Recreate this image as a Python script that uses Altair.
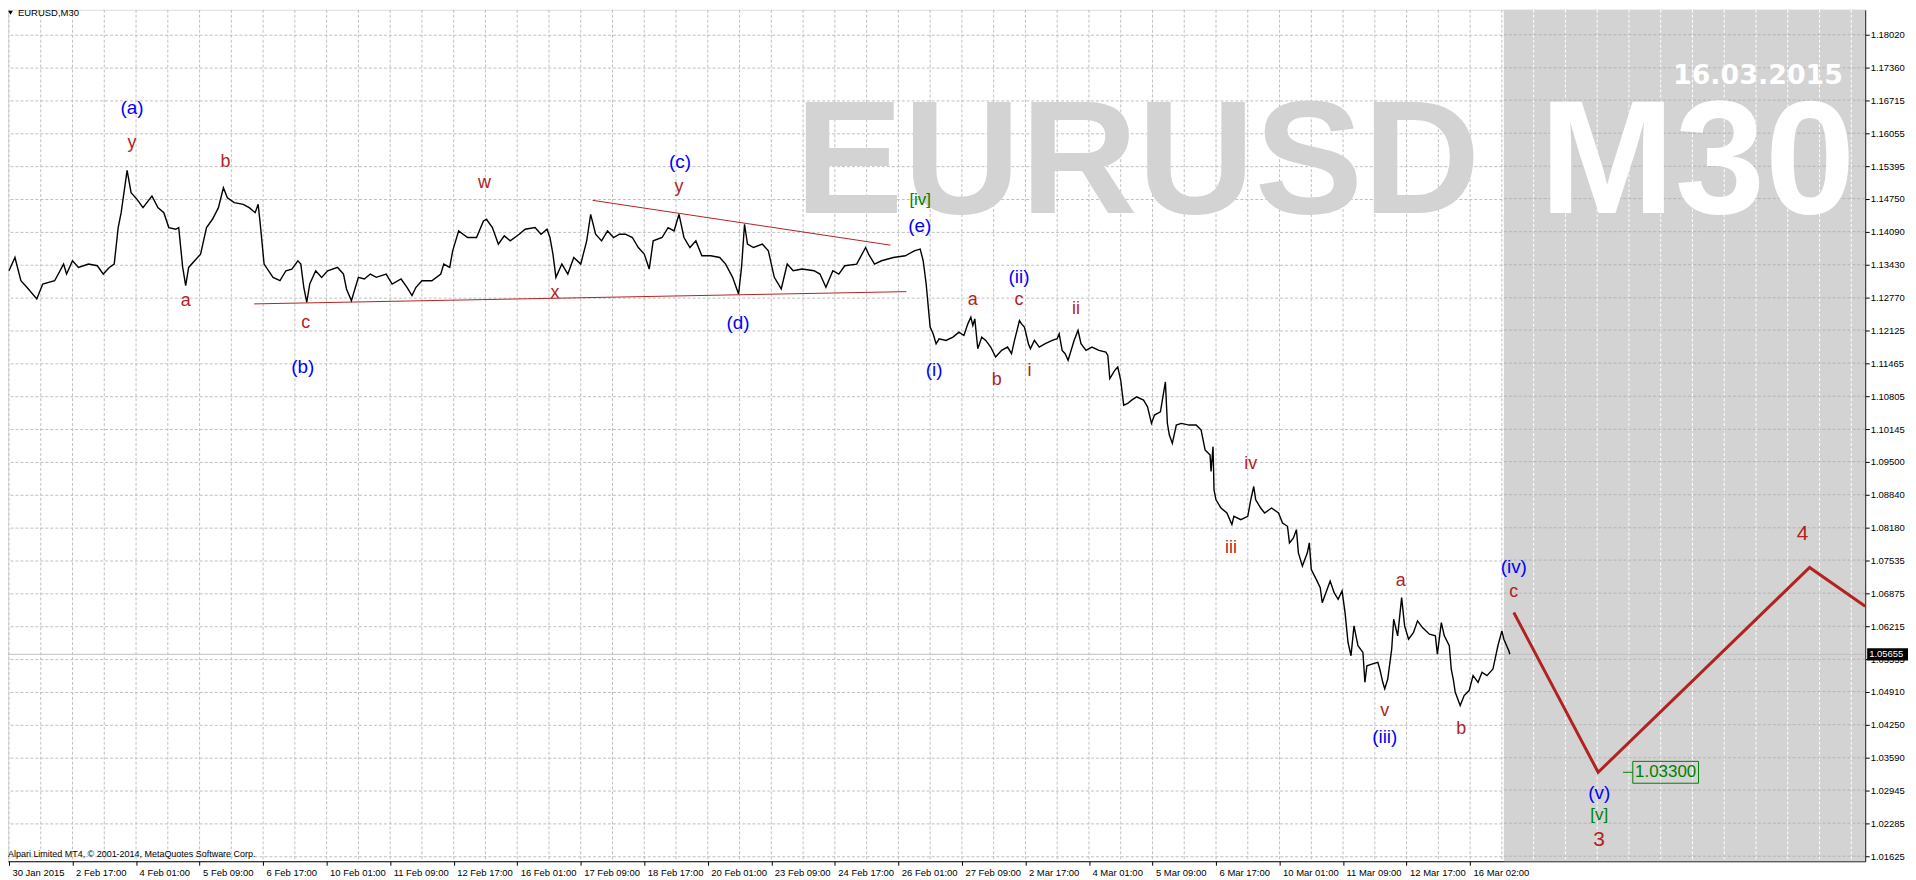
import json
import altair as alt
import pandas as pd

W, H = 1865, 855
X_DOMAIN = [-1, 1870]
Y_DOMAIN = [1.01525, 1.18517]

# ---- price path (M30 bar index, close) ----
price_bar = [0, 6, 12, 18, 28, 34, 46, 55, 58, 64, 70, 80, 89, 95, 101, 106, 110, 113, 119, 123,
             129, 135, 144, 150, 156, 161, 168, 171, 175, 178, 181, 187, 193, 196, 199, 205, 211, 216, 220, 227,
             236, 242, 248, 251, 253, 257, 266, 273, 279, 285, 291, 294, 297, 300, 303, 309, 315, 321, 331, 337,
             340, 345, 349, 352, 358, 364, 370, 380, 386, 395, 401, 406, 410, 416, 426, 435, 438, 444, 447, 453,
             462, 471, 478, 481, 487, 493, 499, 505, 514, 520, 530, 536, 542, 545, 548, 551, 557, 563, 569, 576,
             582, 586, 591, 597, 603, 609, 615, 621, 628, 634, 640, 645, 649, 658, 664, 670, 675, 680, 686, 692,
             698, 707, 716, 722, 729, 735, 738, 741, 744, 750, 759, 765, 771, 778, 784, 790, 799, 811, 817, 823,
             830, 836, 842, 854, 863, 866, 872, 879, 891, 903, 912, 918, 921, 924,
             928, 931, 934, 937, 944, 951, 957, 962, 966, 969, 971, 973, 976, 980, 984, 989, 994, 1000, 1006, 1010,
             1013, 1018, 1020, 1023, 1027, 1029, 1033, 1038, 1044, 1051, 1056, 1058, 1061, 1064, 1067, 1069, 1073, 1077, 1080, 1085,
             1091, 1098, 1105, 1107, 1109, 1114, 1117, 1120, 1123, 1127, 1131, 1136, 1143, 1147, 1151, 1154, 1160, 1165, 1167, 1169,
             1172, 1176, 1181, 1189, 1196, 1201, 1205, 1210, 1211, 1213, 1214, 1216, 1221, 1227, 1232, 1234, 1241, 1248, 1251, 1254,
             1256, 1261, 1265, 1272, 1279, 1283, 1288, 1290, 1294, 1297, 1299, 1303, 1308, 1310, 1312, 1317, 1321, 1323, 1328, 1331,
             1335, 1339, 1343, 1346, 1349, 1352, 1355, 1359, 1364, 1366, 1368, 1373, 1379, 1381, 1384, 1386, 1389, 1393, 1395, 1399,
             1403, 1406, 1410, 1415, 1419, 1424, 1431, 1437, 1439, 1443, 1446, 1451, 1453, 1455, 1457, 1462, 1466, 1471, 1475, 1480,
             1484, 1489, 1495, 1500, 1504, 1506, 1511, 1512]
price_val = [1.13310, 1.13575, 1.13111, 1.12979, 1.12747, 1.13045, 1.13111, 1.13443, 1.13244, 1.13509, 1.13376, 1.13443, 1.13410, 1.13244, 1.13376, 1.13443, 1.14171, 1.14469, 1.15311, 1.14867,
             1.14734, 1.14569, 1.14801, 1.14569, 1.14469, 1.14171, 1.14138, 1.14171, 1.13376, 1.13012, 1.13376, 1.13509, 1.13641, 1.13906, 1.14171, 1.14337, 1.14569, 1.14966, 1.14767, 1.14668,
             1.14635, 1.14569, 1.14469, 1.14635, 1.14271, 1.13443, 1.13178, 1.13111, 1.13310, 1.13343, 1.13509, 1.13443, 1.12979, 1.12681, 1.13045, 1.13310, 1.13178, 1.13310, 1.13376, 1.13244,
             1.12946, 1.12714, 1.12979, 1.13178, 1.13145, 1.13244, 1.13178, 1.13244, 1.13045, 1.13145, 1.12979, 1.12813, 1.12979, 1.13111, 1.13111, 1.13244, 1.13443, 1.13376, 1.13708, 1.14105,
             1.13973, 1.13973, 1.14304, 1.14337, 1.14171, 1.13840, 1.14006, 1.13906, 1.14039, 1.14138, 1.14171, 1.14039, 1.14138, 1.13973, 1.13641, 1.13178, 1.13443, 1.13244, 1.13575, 1.13443,
             1.13906, 1.14436, 1.14039, 1.13906, 1.14105, 1.13973, 1.14039, 1.14039, 1.13973, 1.13774, 1.13641, 1.13343, 1.13906, 1.13973, 1.14171, 1.14105, 1.14436, 1.13973, 1.13774, 1.13906,
             1.13608, 1.13608, 1.13575, 1.13443, 1.13178, 1.12846, 1.13376, 1.14238, 1.13840, 1.13774, 1.13840, 1.13708, 1.13178, 1.12946, 1.13443, 1.13310, 1.13343, 1.13310, 1.13244, 1.12979,
             1.13310, 1.13244, 1.13410, 1.13443, 1.13774, 1.13641, 1.13443, 1.13509, 1.13575, 1.13608, 1.13708, 1.13741, 1.13509, 1.13045,
             1.12184, 1.12052, 1.11853, 1.11952, 1.11919, 1.11985, 1.12085, 1.12018, 1.12250, 1.12383, 1.12217, 1.12350, 1.11754, 1.11985, 1.11919, 1.11787, 1.11588, 1.11720, 1.11787, 1.11654,
             1.11919, 1.12317, 1.12250, 1.12184, 1.11853, 1.11754, 1.11919, 1.11787, 1.11853, 1.11919, 1.11952, 1.12052, 1.11720, 1.11654, 1.11522, 1.11654, 1.11919, 1.12118, 1.11853, 1.11720,
             1.11787, 1.11720, 1.11687, 1.11621, 1.11157, 1.11323, 1.11389, 1.11124, 1.10627, 1.10661, 1.10727, 1.10793, 1.10727, 1.10594, 1.10263, 1.10429, 1.10495, 1.11091, 1.10263, 1.10031,
             1.09866, 1.10230, 1.10263, 1.10230, 1.10230, 1.10131, 1.09733, 1.09634, 1.09303, 1.09799, 1.08938, 1.08739, 1.08574, 1.08474, 1.08243, 1.08408, 1.08342, 1.08408, 1.08739, 1.09004,
             1.08739, 1.08574, 1.08474, 1.08574, 1.08474, 1.08276, 1.08210, 1.07878, 1.07978, 1.08143, 1.07680, 1.07415, 1.07680, 1.07878, 1.07348, 1.07150, 1.06984, 1.06686, 1.06951, 1.07117,
             1.06885, 1.06752, 1.06918, 1.06487, 1.05891, 1.05626, 1.06222, 1.05825, 1.05692, 1.05096, 1.05427, 1.05460, 1.05494, 1.05361, 1.05096, 1.04964, 1.05162, 1.05759, 1.06355, 1.06024,
             1.06785, 1.06222, 1.05957, 1.06090, 1.06322, 1.06189, 1.06057, 1.06024, 1.05659, 1.06288, 1.06024, 1.05825, 1.05361, 1.05162, 1.04897, 1.04632, 1.04831, 1.04931, 1.05229, 1.05096,
             1.05295, 1.05229, 1.05361, 1.05825, 1.06123, 1.05957, 1.05725, 1.05655]

current_price = 1.05655

# ---- axes ----
x_tick_bars = list(range(0, 1473, 64))
x_tick_labels = ["30 Jan 2015", "2 Feb 17:00", "4 Feb 01:00", "5 Feb 09:00", "6 Feb 17:00",
                 "10 Feb 01:00", "11 Feb 09:00", "12 Feb 17:00", "16 Feb 01:00", "17 Feb 09:00",
                 "18 Feb 17:00", "20 Feb 01:00", "23 Feb 09:00", "24 Feb 17:00", "26 Feb 01:00",
                 "27 Feb 09:00", "2 Mar 17:00", "4 Mar 01:00", "5 Mar 09:00", "6 Mar 17:00",
                 "10 Mar 01:00", "11 Mar 09:00", "12 Mar 17:00", "16 Mar 02:00"]
y_tick_values = [1.18020, 1.17360, 1.16715, 1.16055, 1.15395, 1.14750, 1.14090, 1.13430, 1.12770,
                 1.12125, 1.11465, 1.10805, 1.10145, 1.09500, 1.08840, 1.08180, 1.07535, 1.06875,
                 1.06215, 1.05555, 1.04910, 1.04250, 1.03590, 1.02945, 1.02285, 1.01625]
grid_bars = list(range(0, 1857, 32))
future_start, future_end = 1506, 1870

# ---- drawn objects ----
upper_bar = [588, 888]
upper_val = [1.14715, 1.13821]
lower_bar = [247, 904]
lower_val = [1.12648, 1.12893]
forecast_bar = [1516, 1601, 1814, 1870]
forecast_val = [1.06488, 1.03300, 1.07388, 1.06613]
target_bar, target_val, target_text = 1669, 1.03300, "1.03300"

blue_text = ["(a)", "(b)", "(c)", "(d)", "(e)", "(i)", "(ii)", "(iii)", "(iv)", "(v)"]
blue_bar = [124, 296, 676, 734.5, 917.5, 932, 1017.5, 1386, 1516, 1602]
blue_val = [1.16549, 1.11392, 1.15476, 1.12265, 1.14204, 1.11333, 1.13181, 1.04010, 1.07398, 1.02877]

red_text = ["y", "b", "a", "c", "w", "x", "y", "a", "c", "b", "i", "ii", "iv", "iii", "a", "v", "b", "c"]
red_bar = [124, 218, 178, 299, 479, 550, 675, 971, 1017.5, 995, 1028, 1075, 1251, 1231, 1402, 1386, 1463, 1516]
red_val = [1.15854, 1.15476, 1.12704, 1.12265, 1.15059, 1.12863, 1.14979, 1.12724, 1.12734, 1.11124,
           1.11303, 1.12555, 1.09455, 1.07776, 1.07118, 1.04516, 1.04159, 1.06891]

green_text = ["[iv]", "[v]"]
green_bar = [918, 1602]
green_val = [1.14721, 1.02446]

big_text = ["3", "4"]
big_bar = [1602, 1807]
big_val = [1.01949, 1.08054]

wm_bar, wm_val = [1137, 1701], [1.14463, 1.14463]
date_bar, date_val = 1762, 1.17046

FONT = "Liberation Sans"
BLUE = "#0000FF"
RED = "#B22222"
GREEN = "#008000"

x_scale = alt.Scale(domain=X_DOMAIN, nice=False, zero=False)
y_scale = alt.Scale(domain=Y_DOMAIN, nice=False, zero=False)
label_expr = json.dumps(x_tick_labels) + "[round(datum.value / 64)]"

x_axis = alt.Axis(values=x_tick_bars, labelExpr=label_expr, orient="bottom", grid=False,
                  tickSize=4, tickColor="black", domainColor="black", labelAlign="left",
                  labelBaseline="top", labelPadding=2, labelOffset=3, labelFont=FONT,
                  labelFontSize=9.5, labelColor="black", labelFlush=False, labelOverlap=False,
                  labelBound=False, title=None)
y_axis = alt.Axis(values=y_tick_values, orient="right", format=".5f", grid=True,
                  gridColor="#C0C0C0", gridDash=[3, 2], tickSize=4, tickColor="black",
                  domainColor="black", labelAlign="left", labelBaseline="middle", labelPadding=1,
                  labelFont=FONT, labelFontSize=9.5, labelColor="black", labelFlush=False,
                  labelOverlap=False, labelBound=False, title=None)


def X():
    return alt.X("bar:Q", scale=x_scale, axis=x_axis)


def Y():
    return alt.Y("price:Q", scale=y_scale, axis=y_axis)


layers = []

# grid (white area)
df_vg = pd.DataFrame({"bar": [b for b in grid_bars if b < future_start]})
layers.append(alt.Chart(df_vg).mark_rule(color="#C0C0C0", strokeDash=[3, 2], strokeWidth=1)
              .encode(x=X(), y=alt.value(0), y2=alt.value(H)))

# future shading
df_fut = pd.DataFrame({"bar": [future_start], "bar2": [future_end]})
layers.append(alt.Chart(df_fut).mark_rect(color="#D3D3D3")
              .encode(x=X(), x2="bar2:Q", y=alt.value(0), y2=alt.value(H)))

# grid inside shading
df_vg2 = pd.DataFrame({"bar": [b for b in grid_bars if b > future_start]})
layers.append(alt.Chart(df_vg2).mark_rule(color="#FFFFFF", strokeDash=[3, 2], strokeWidth=1)
              .encode(x=X(), y=alt.value(0), y2=alt.value(H)))
df_hg2 = pd.DataFrame({"price": y_tick_values, "bar": future_start, "bar2": future_end})
layers.append(alt.Chart(df_hg2).mark_rule(color="#B4B4B4", strokeDash=[3, 2], strokeWidth=1)
              .encode(x=X(), x2="bar2:Q", y=Y()))

# watermark
df_wm1 = pd.DataFrame({"bar": [wm_bar[0]], "price": [wm_val[0]], "t": ["EURUSD"]})
layers.append(alt.Chart(df_wm1).mark_text(font=FONT, fontWeight="bold", fontSize=163, align="center",
                                          baseline="alphabetic", color="#D3D3D3")
              .encode(x=X(), y=Y(), text="t:N"))
df_wm2 = pd.DataFrame({"bar": [wm_bar[1]], "price": [wm_val[1]], "t": ["M30"]})
layers.append(alt.Chart(df_wm2).mark_text(font=FONT, fontWeight="bold", fontSize=163, align="center",
                                          baseline="alphabetic", color="#FFFFFF")
              .encode(x=X(), y=Y(), text="t:N"))
df_date = pd.DataFrame({"bar": [date_bar], "price": [date_val], "t": ["16.03.2015"]})
layers.append(alt.Chart(df_date).mark_text(font="DejaVu Sans", fontWeight="bold", fontSize=27,
                                           align="center", baseline="alphabetic", color="#FFFFFF")
              .encode(x=X(), y=Y(), text="t:N"))

# current price line
df_cur = pd.DataFrame({"price": [current_price]})
layers.append(alt.Chart(df_cur).mark_rule(color="#C0C0C0", strokeWidth=1)
              .encode(x=alt.value(0), x2=alt.value(W), y=Y()))

# triangle trend lines
df_tr = pd.DataFrame({"bar": upper_bar + lower_bar, "price": upper_val + lower_val,
                      "id": ["u", "u", "l", "l"]})
layers.append(alt.Chart(df_tr).mark_line(color=RED, strokeWidth=1)
              .encode(x=X(), y=Y(), detail="id:N"))

# price
df_price = pd.DataFrame({"bar": price_bar, "price": price_val})
layers.append(alt.Chart(df_price).mark_line(color="black", strokeWidth=1.4, strokeJoin="miter")
              .encode(x=X(), y=Y()))

# forecast
df_fc = pd.DataFrame({"bar": forecast_bar, "price": forecast_val})
layers.append(alt.Chart(df_fc).mark_line(color=RED, strokeWidth=3)
              .encode(x=X(), y=Y()))


def text_layer(texts, bars, vals, color, size):
    df = pd.DataFrame({"bar": bars, "price": vals, "t": texts})
    return (alt.Chart(df).mark_text(font=FONT, fontSize=size, align="center", baseline="middle",
                                    color=color)
            .encode(x=X(), y=Y(), text="t:N"))


layers.append(text_layer(red_text, red_bar, red_val, RED, 18))
layers.append(text_layer(blue_text, blue_bar, blue_val, BLUE, 19))
layers.append(text_layer(green_text, green_bar, green_val, GREEN, 17))
layers.append(text_layer(big_text, big_bar, big_val, RED, 21))

# target box
df_tg = pd.DataFrame({"bar": [target_bar], "price": [target_val], "t": [target_text]})
layers.append(alt.Chart(df_tg).mark_point(shape="M-1.3,0H-1M-1,-0.333H1V0.333H-1Z", size=4356,
                                          filled=False, color=GREEN, strokeWidth=1, opacity=1)
              .encode(x=X(), y=Y()))
layers.append(alt.Chart(df_tg).mark_text(font=FONT, fontSize=17, align="center", baseline="middle",
                                         color=GREEN)
              .encode(x=X(), y=Y(), text="t:N"))

# chart chrome: symbol title, copyright
df_t = pd.DataFrame({"t": ["EURUSD,M30"]})
layers.append(alt.Chart(df_t).mark_text(font=FONT, fontSize=9.5, align="left", baseline="middle",
                                        color="black")
              .encode(x=alt.value(10), y=alt.value(3.5), text="t:N"))
layers.append(alt.Chart(df_t).mark_point(shape="triangle-down", size=22, filled=True, color="black",
                                         opacity=1)
              .encode(x=alt.value(2.5), y=alt.value(3)))
df_c = pd.DataFrame({"t": ["Alpari Limited MT4, \u00a9 2001-2014, MetaQuotes Software Corp."]})
layers.append(alt.Chart(df_c).mark_text(font=FONT, fontSize=9, align="left", baseline="middle",
                                        color="black")
              .encode(x=alt.value(0), y=alt.value(847.5), text="t:N"))

# current price tag on the price axis
df_cp = pd.DataFrame({"price": [current_price], "t": ["%.5f" % current_price]})
layers.append(alt.Chart(df_cp).mark_point(shape="M-1,-0.3H1V0.3H-1Z", size=1681, filled=True,
                                          color="black", opacity=1)
              .encode(x=alt.value(W + 22.5), y=Y()))
layers.append(alt.Chart(df_cp).mark_text(font=FONT, fontSize=9.5, align="left", baseline="middle",
                                         color="white")
              .encode(x=alt.value(W + 4), y=Y(), text="t:N"))

chart = (alt.layer(*layers)
         .properties(width=W, height=H,
                     padding={"left": 0, "top": 0, "right": 43, "bottom": 17},
                     autosize=alt.AutoSizeParams(type="none"))
         .configure_view(stroke="black", strokeWidth=1)
         .configure(background="white"))

chart.save("out.html", embed_options={"renderer": "svg", "actions": False})
